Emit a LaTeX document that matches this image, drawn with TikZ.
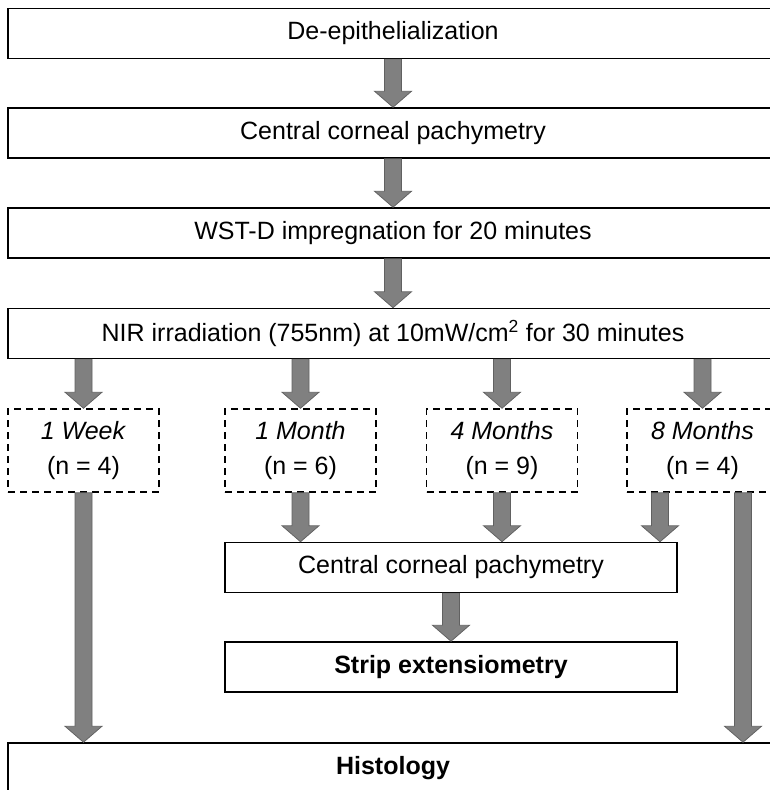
\documentclass[tikz,border=0pt]{standalone}
\usepackage{fontspec}
\setmainfont{Liberation Sans}
\usetikzlibrary{calc}

\begin{document}
\begin{tikzpicture}[x=1pt,y=-1pt,
	stage/.style={draw,line width=1.5pt,minimum height=50pt,inner sep=0pt,align=center,font=\fontsize{25}{35}\selectfont},
	wide/.style={stage,minimum width=770pt},
	narrow/.style={stage,minimum width=452pt},
	timepoint/.style={stage,dash pattern=on 7pt off 5pt,minimum width=151pt,minimum height=83pt},
	arrowbody/.style={fill=black!50,draw=black!62,line width=.75pt}]
	\def\shaft{8.5pt}
	\def\head{18.5pt}
	\def\headlen{16pt}
	% downward block arrow from #1 to #2
	\def\flowarrow#1#2{\path[arrowbody] let \p1=(#1), \p2=(#2) in
		(\x1-\shaft,\y1) -- (\x1-\shaft,\y2+\headlen) -- (\x1-\head,\y2+\headlen) -- (\x1,\y2)
		-- (\x1+\head,\y2+\headlen) -- (\x1+\shaft,\y2+\headlen) -- (\x1+\shaft,\y1) -- cycle;}
	%page
	\useasboundingbox (0,0) rectangle (770,790);
	\clip (0,0) rectangle (770,790);
	% preparation
	\node[wide] (de)   at (393,33.5)  {De-epithelialization};
	\node[wide] (pach) at (393,133)   {Central corneal pachymetry};
	\node[wide] (wst)  at (393,233)   {WST-D impregnation for 20 minutes};
	\node[wide] (nir)  at (393,333.5) {NIR irradiation (755nm) at 10mW/cm\textsuperscript{2} for 30 minutes};
	\flowarrow{de.south}{pach.north}
	\flowarrow{pach.south}{wst.north}
	\flowarrow{wst.south}{nir.north}
	% time points
	\foreach \xpos/\name/\when/\n in {83.5/t1/1 Week/4,300.5/t2/1 Month/6,502/t3/4 Months/9,702.5/t4/8 Months/4}
		{
			\node[timepoint] (\name) at (\xpos,450.5) {\textit{\when}\\(n = \n)};
			\flowarrow{\name.north |- nir.south}{\name.north}
		}
	% follow-up
	\node[narrow] (pach2) at (451,567.5) {Central corneal pachymetry};
	\node[narrow] (strip) at (451,667)   {\textbf{Strip extensiometry}};
	\node[wide]   (hist)  at (393,768)   {\textbf{Histology}};
	\coordinate (s4a) at ([xshift=-42.5pt]t4.south);
	\coordinate (s4b) at ([xshift=40.5pt]t4.south);
	\foreach \name in {t2,t3}
		{\flowarrow{\name.south}{\name.south |- pach2.north}}
	\flowarrow{s4a}{s4a |- pach2.north}
	\flowarrow{pach2.south}{strip.north}
	\flowarrow{t1.south}{t1.south |- hist.north}
	\flowarrow{s4b}{s4b |- hist.north}
\end{tikzpicture}
\end{document}
